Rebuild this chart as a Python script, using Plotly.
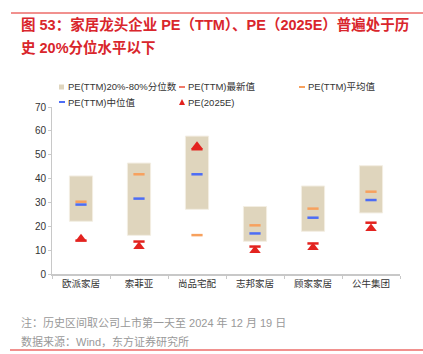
import plotly.graph_objects as go

categories = ["欧派家居", "索菲亚", "尚品宅配", "志邦家居", "顾家家居", "公牛集团"]
q20 = [22.1, 16.2, 27.1, 13.7, 17.9, 25.6]
q80 = [41.1, 46.5, 57.8, 28.3, 36.9, 45.4]
latest = [14.0, 13.6, 52.3, 11.5, 12.8, 21.5]
mean = [30.3, 41.8, 16.3, 20.4, 27.4, 34.5]
median = [29.1, 31.6, 41.8, 17.0, 23.6, 31.0]
pe2025 = [14.8, 11.5, 53.6, 9.8, 11.1, 19.1]

W, H = 423, 354
L, R, T, B = 52, 400, 107, 274
FONT = "Liberation Sans, Arial, Noto Sans CJK SC, sans-serif"
TAN = "#dfd5bd"
ORANGE = "#f7a15e"
BLUE = "#4d6df5"
RED = "#e3231f"

def px(x):
    return (x - L) / (R - L)

def py(y):
    return (B - y) / (B - T)

fig = go.Figure()
fig.add_trace(go.Bar(
    x=categories, y=[h - l for h, l in zip(q80, q20)], base=q20, width=0.4,
    marker=dict(color=TAN, line=dict(color="#f3eee3", width=1)), showlegend=False,
))
fig.add_trace(go.Scatter(
    x=categories, y=pe2025, mode="markers", showlegend=False,
    marker=dict(symbol="triangle-up", size=10, color=RED),
))
for vals, col in [(mean, ORANGE), (median, BLUE), (latest, RED)]:
    fig.add_trace(go.Scatter(
        x=categories, y=vals, mode="markers", showlegend=False,
        marker=dict(symbol="line-ew", size=8, line=dict(color=col, width=2.5)),
    ))

shapes = []
annotations = []
shapes.append(dict(type="line", xref="paper", yref="paper", x0=px(11), x1=px(423), y0=py(13), y1=py(13),
                   line=dict(color=RED, width=1)))
shapes.append(dict(type="line", xref="paper", yref="paper", x0=px(10), x1=px(423), y0=py(350), y1=py(350),
                   line=dict(color=RED, width=1)))

for txt, yy in [("图 53：家居龙头企业 PE（TTM）、PE（2025E）普遍处于历", 24), ("史 20%分位水平以下", 47)]:
    annotations.append(dict(text="<b>" + txt + "</b>", xref="paper", yref="paper", x=px(19), y=py(yy),
                            xanchor="left", yanchor="middle", showarrow=False,
                            font=dict(family=FONT, size=14.5, color="#d9262c")))

leg = [
    ("sq", TAN, "PE(TTM)20%-80%分位数", 59, 87),
    ("ln", "#ef7a6a", "PE(TTM)最新值", 179, 87),
    ("ln", ORANGE, "PE(TTM)平均值", 299, 87),
    ("ln", BLUE, "PE(TTM)中位值", 59, 102),
    ("tri", RED, "PE(2025E)", 179, 102),
]
for kind, col, txt, x0, yc in leg:
    if kind == "sq":
        shapes.append(dict(type="rect", xref="paper", yref="paper", x0=px(x0), x1=px(x0 + 5),
                           y0=py(yc + 2.5), y1=py(yc - 2.5), fillcolor=col, line=dict(width=0)))
    elif kind == "ln":
        shapes.append(dict(type="line", xref="paper", yref="paper", x0=px(x0), x1=px(x0 + 6),
                           y0=py(yc), y1=py(yc), line=dict(color=col, width=2)))
    else:
        shapes.append(dict(type="path", xref="paper", yref="paper",
                           path=f"M {px(x0)},{py(yc + 3)} L {px(x0 + 6)},{py(yc + 3)} L {px(x0 + 3)},{py(yc - 3)} Z",
                           fillcolor=col, line=dict(width=0)))
    annotations.append(dict(text=txt, xref="paper", yref="paper", x=px(x0 + 7), y=py(yc),
                            xanchor="left", yanchor="middle", showarrow=False,
                            font=dict(family=FONT, size=9.5, color="#333333")))

for txt, yy in [("注：历史区间取公司上市第一天至 2024 年 12 月 19 日", 322), ("数据来源：Wind，东方证券研究所", 341)]:
    annotations.append(dict(text=txt, xref="paper", yref="paper", x=px(19), y=py(yy),
                            xanchor="left", yanchor="middle", showarrow=False,
                            font=dict(family=FONT, size=11, color="#999999")))

fig.update_layout(
    width=W, height=H, margin=dict(l=L, r=W - R, t=T, b=H - B, pad=0),
    paper_bgcolor="white", plot_bgcolor="white", showlegend=False, bargap=0.6,
    font=dict(family=FONT, size=10, color="#333333"),
    shapes=shapes, annotations=annotations,
)
fig.update_xaxes(type="category", showline=True, linecolor="#c8c8c8", linewidth=1.5,
                 ticks="outside", tickson="boundaries", ticklen=3, tickcolor="#c8c8c8",
                 showgrid=False, tickfont=dict(size=9.5, color="#333333"))
fig.update_yaxes(range=[0, 70], dtick=10, showline=True, linecolor="#c8c8c8", linewidth=1,
                 ticks="outside", ticklen=3, tickcolor="#c8c8c8", showgrid=False, zeroline=False,
                 tickfont=dict(size=10, color="#333333"))

fig.write_html("out.html")
